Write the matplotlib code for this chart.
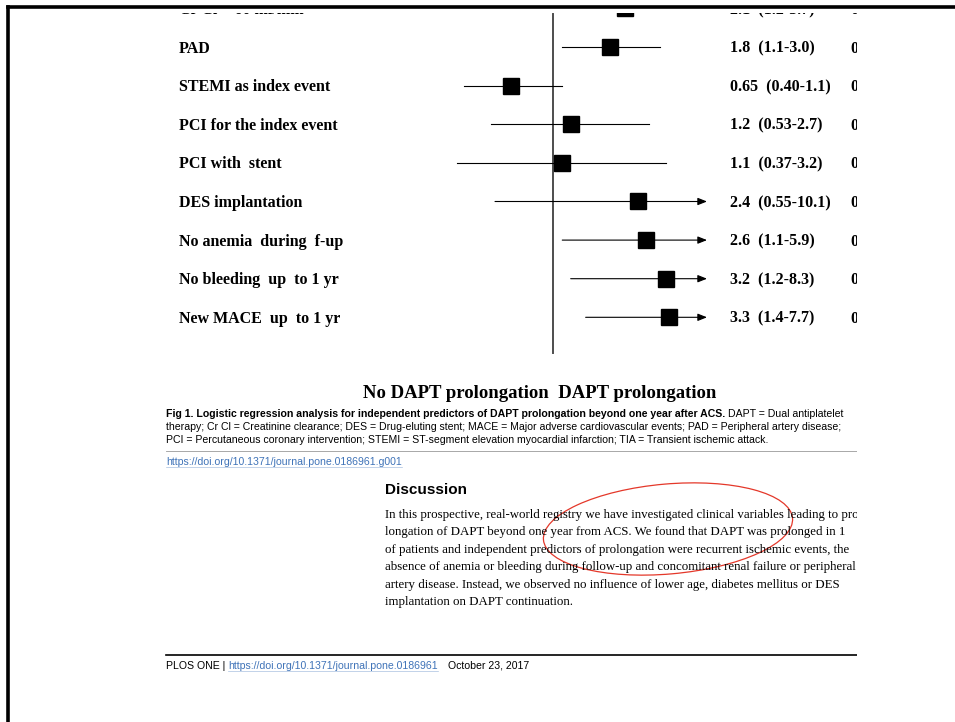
import numpy as np
import matplotlib.pyplot as plt
from matplotlib.lines import Line2D
from matplotlib.patches import Ellipse

# Forest plot rows; the first row runs off the top of the page
labels = ["Cr Cl < 60 ml/min", "PAD", "STEMI as index event", "PCI for the index event",
          "PCI with  stent", "DES implantation", "No anemia  during  f-up",
          "No bleeding  up  to 1 yr", "New MACE  up  to 1 yr"]
odds_txt = ["2.1", "1.8", "0.65", "1.2", "1.1", "2.4", "2.6", "3.2", "3.3"]
low_txt = ["1.2", "1.1", "0.40", "0.53", "0.37", "0.55", "1.1", "1.2", "1.4"]
high_txt = ["3.7", "3.0", "1.1", "2.7", "3.2", "10.1", "5.9", "8.3", "7.7"]
p_txt = ["0", "0", "0", "0", "0", "0", "0", "0", "0"]

odds = np.array([float(v) for v in odds_txt])
low = np.array([float(v) for v in low_txt])
high = np.array([float(v) for v in high_txt])

x_label = "No DAPT prolongation  DAPT prolongation"
caption_bold = "Fig 1. Logistic regression analysis for independent predictors of DAPT prolongation beyond one year after ACS."
caption_rest = ["DAPT = Dual antiplatelet",
                "therapy; Cr Cl = Creatinine clearance; DES = Drug-eluting stent; MACE = Major adverse cardiovascular events; PAD = Peripheral artery disease;",
                "PCI = Percutaneous coronary intervention; STEMI = ST-segment elevation myocardial infarction; TIA = Transient ischemic attack."]
fig_doi = "https://doi.org/10.1371/journal.pone.0186961.g001"
discussion = ["In this prospective, real-world registry we have investigated clinical variables leading to pro-",
              "longation of DAPT beyond one year from ACS. We found that DAPT was prolonged in 1",
              "of patients and independent predictors of prolongation were recurrent ischemic events, the",
              "absence of anemia or bleeding during follow-up and concomitant renal failure or peripheral",
              "artery disease. Instead, we observed no influence of lower age, diabetes mellitus or DES",
              "implantation on DAPT continuation."]
footer_doi = "https://doi.org/10.1371/journal.pone.0186961"
footer_date = "October 23, 2017"

W, H = 955, 722
fig = plt.figure(figsize=(W / 100, H / 100), dpi=100)
renderer = fig.canvas.get_renderer()
link_blue = "#3f73b8"


def width_of(t):
    return t.get_window_extent(renderer=renderer).width


def fit_size(t, target):
    # rescale a text so that its drawn width equals target pixels
    t.set_fontsize(t.get_fontsize() * target / width_of(t))
    return t.get_fontsize()


# page axes in pixel units, cut at the right and under the top frame
clip_r, clip_t = 857, 13
page = fig.add_axes([0, 0, clip_r / W, (H - clip_t) / H])
page.set_xlim(0, clip_r)
page.set_ylim(H, clip_t)
page.axis("off")

# forest plot axes: log odds-ratio scale, 97 px per unit of ln(OR), OR = 1 at x = 553
k = 97.0
fx0, fx1, fy0, fy1 = 400, 770, clip_t, 360
fp = fig.add_axes([fx0 / W, (H - fy1) / H, (fx1 - fx0) / W, (fy1 - fy0) / H])
fp.set_xscale("log")
fp.set_xlim(np.exp((fx0 - 553) / k), np.exp((fx1 - 553) / k))
fp.set_ylim(fy1, fy0)
fp.axis("off")
cap = np.exp((707 - 553) / k)

row_y = 8.5 + 38.6 * np.arange(len(labels))

fp.plot([1, 1], [14, 353], color="#4d4d4d", lw=1.4, zorder=1)
for i in range(len(labels)):
    y = row_y[i]
    if high[i] > cap:
        fp.annotate("", xy=(cap, y), xytext=(low[i], y),
                    arrowprops=dict(arrowstyle="-|>,head_length=0.55,head_width=0.22",
                                    color="black", lw=0.8, shrinkA=0, shrinkB=0))
    else:
        fp.plot([low[i], high[i]], [y, y], color="black", lw=0.8, zorder=2)
    fp.plot(odds[i], y, marker="s", ms=12, color="black", zorder=3)

serif_b = dict(family="Liberation Serif", weight="bold", fontsize=11.5, clip_on=True)
for i in range(len(labels)):
    ty = row_y[i] + 1.5
    page.text(179, ty, labels[i], va="center", ha="left", **serif_b)
    page.text(730, ty, f"{odds_txt[i]}  ({low_txt[i]}-{high_txt[i]})",
              va="center", ha="left", **serif_b)
    page.text(850, ty, p_txt[i], va="center", ha="left", **serif_b)

t = page.text(363, 393, x_label, va="center", ha="left", family="Liberation Serif",
              weight="bold", fontsize=14, clip_on=True)
fit_size(t, 356)

# caption block
cap_font = dict(family="Liberation Sans", fontsize=7.6, clip_on=True, va="center", ha="left")
t = page.text(166, 427, caption_rest[1], **cap_font)
cap_font["fontsize"] = fit_size(t, 672)
t = page.text(166, 414, caption_bold, weight="bold", **cap_font)
page.text(166 + width_of(t) + 3, 414, caption_rest[0], **cap_font)
page.text(166, 440, caption_rest[2], **cap_font)
page.plot([166, clip_r], [450.5, 450.5], color="#9a9a9a", lw=0.6)

t = page.text(166, 462, fig_doi, color=link_blue, **cap_font)
page.plot([166, 166 + width_of(t)], [467, 467], color="#a9c1e0", lw=0.5)

# discussion section
page.text(385, 490, "Discussion", family="Liberation Sans", weight="bold", fontsize=11,
          va="center", ha="left", clip_on=True)
body = dict(family="Liberation Serif", fontsize=9.6, va="center", ha="left", clip_on=True)
t = page.text(385, 515 + 17.4 * 4, discussion[4], **body)
body["fontsize"] = fit_size(t, 458)
for j, line in enumerate(discussion):
    if j != 4:
        page.text(385, 515 + 17.4 * j, line, **body)

page.add_patch(Ellipse((668, 529), 250, 90, angle=-5, fill=False, ec="#e4382a", lw=0.9))

# footer
page.plot([166, clip_r], [655, 655], color="black", lw=1.2)
t = page.text(166, 666, "PLOS ONE |", **cap_font)
x = 166 + width_of(t) + 3
t = page.text(x, 666, footer_doi, color=link_blue, **cap_font)
dw = width_of(t)
page.plot([x, x + dw], [671, 671], color="#a9c1e0", lw=0.5)
page.text(x + dw + 10, 666, footer_date, **cap_font)

# page frame
fig.add_artist(Line2D([7.5 / W, 1], [1 - 7 / H, 1 - 7 / H], color="black", lw=2.6))
fig.add_artist(Line2D([7.5 / W, 7.5 / W], [0, 1 - 7 / H], color="black", lw=2.6))

fig.savefig("out.png", dpi=100)
